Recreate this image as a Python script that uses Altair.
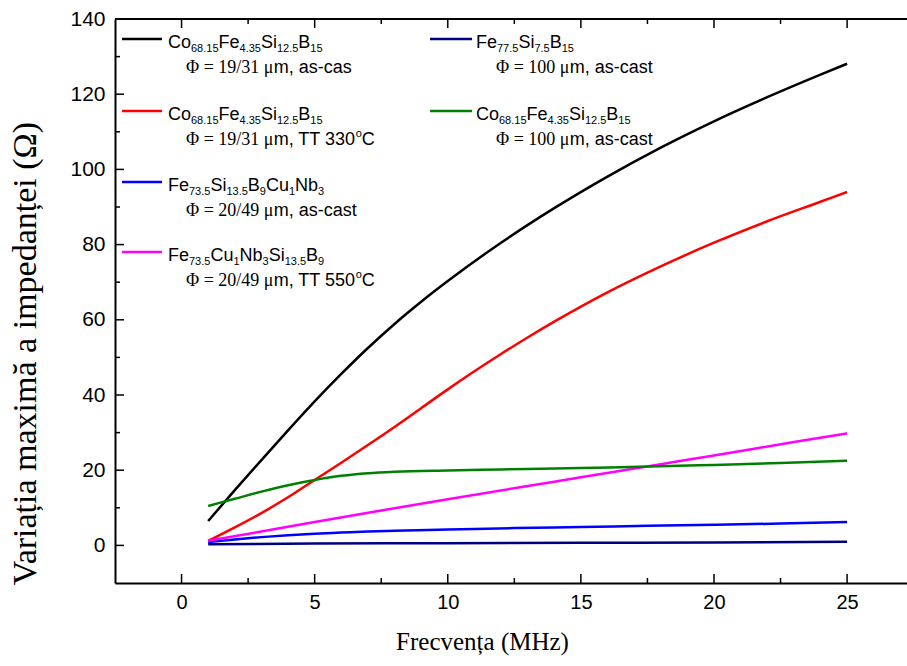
import re
import altair as alt
import pandas as pd

# ---------------- data ----------------
black_f = [1, 2, 3, 4, 5, 6, 7, 8, 9, 10, 12, 14, 16, 18, 20, 22, 24, 25]
black_v = [6.5, 14.7, 22.7, 30.6, 38.3, 45.6, 52.5, 58.9, 64.8, 70.3, 80.5, 89.7, 98.1, 105.8, 112.8, 119.2, 125.2, 128.1]

red_f = [1, 2, 3, 4, 5, 6, 7, 8, 9, 10, 11, 12, 13, 14, 16, 18, 20, 22, 24, 25]
red_v = [1.2, 4.8, 8.6, 12.8, 17.4, 22.0, 26.7, 31.5, 36.5, 41.5, 46.3, 50.9, 55.3, 59.5, 67.3, 74.2, 80.5, 86.2, 91.4, 94.0]

blue_f = [1, 2, 3, 4, 5, 6, 7, 8, 10, 12.5, 15, 17.5, 20, 22.5, 25]
blue_v = [0.9, 1.6, 2.2, 2.7, 3.1, 3.4, 3.7, 3.9, 4.2, 4.6, 4.9, 5.2, 5.5, 5.8, 6.2]

magenta_f = [1, 3, 5, 8, 10, 13, 15, 18, 20, 23, 25]
magenta_v = [1.25, 3.7, 6.2, 9.9, 12.3, 15.8, 18.1, 21.6, 23.9, 27.5, 29.8]

navy_f = [1, 5, 10, 15, 20, 25]
navy_v = [0.3, 0.5, 0.6, 0.7, 0.8, 0.95]

green_f = [1, 2, 3, 4, 5, 6, 7, 8, 10, 12, 15, 17.2, 20, 22.5, 25]
green_v = [10.5, 12.4, 14.3, 16.0, 17.4, 18.5, 19.2, 19.6, 19.95, 20.2, 20.6, 20.9, 21.4, 21.9, 22.5]

x_ticks = [0, 5, 10, 15, 20, 25]
x_minor = [2.5, 7.5, 12.5, 17.5, 22.5]
y_ticks = [0, 20, 40, 60, 80, 100, 120, 140]
y_minor = [10, 30, 50, 70, 90, 110, 130]

# legend texts: formula (with _{sub} and ^{sup}), serif part, sans part
legend_names = ["black", "red", "blue", "magenta", "navy", "green"]
legend_formula = [
    "Co_{68.15}Fe_{4.35}Si_{12.5}B_{15}",
    "Co_{68.15}Fe_{4.35}Si_{12.5}B_{15}",
    "Fe_{73.5}Si_{13.5}B_{9}Cu_{1}Nb_{3}",
    "Fe_{73.5}Cu_{1}Nb_{3}Si_{13.5}B_{9}",
    "Fe_{77.5}Si_{7.5}B_{15}",
    "Co_{68.15}Fe_{4.35}Si_{12.5}B_{15}",
]
legend_serif = ["Φ = 19/31 μ", "Φ = 19/31 μ", "Φ = 20/49 μ", "Φ = 20/49 μ", "Φ = 100 μ", "Φ = 100 μ"]
legend_sans = ["m, as-cas", "m, TT 330^{o}C", "m, as-cast", "m, TT 550^{o}C", "m, as-cast", "m, as-cast"]

colors = {"black": "#000000", "red": "#ff0000", "blue": "#0000ff",
          "magenta": "#ff00ff", "navy": "#000080", "green": "#008000"}

series = {
    "black": (black_f, black_v), "red": (red_f, red_v), "blue": (blue_f, blue_v),
    "magenta": (magenta_f, magenta_v), "navy": (navy_f, navy_v), "green": (green_f, green_v),
}

# ---------------- layout constants ----------------
W, H = 792, 564
XMIN, XMAX = -2.5, 27.25
YMIN, YMAX = -10, 140
SANS = "Liberation Sans"
SERIF = "Liberation Serif"
FS, SUB = 18, 11

SANS_W = {' ': 278, ',': 278, '-': 333, '.': 278, '/': 278, 'B': 667, 'C': 722, 'F': 611,
          'N': 722, 'S': 667, 'T': 611, 'a': 556, 'b': 556, 'c': 500, 'e': 556, 'i': 222,
          'm': 833, 'o': 556, 's': 500, 't': 278, 'u': 556}
SERIF_W = {' ': 250, '=': 564, '/': 278, 'Φ': 760, 'μ': 520}


def text_w(t, fam, size):
    table = SANS_W if fam == "sans" else SERIF_W
    dflt = 556 if fam == "sans" else 500
    return sum(table.get(c, dflt) for c in t) / 1000 * size


def parse(markup):
    out = []
    for m in re.finditer(r'([_^])\{([^}]*)\}|([^_^]+)', markup):
        if m.group(3):
            out.append((m.group(3), "n"))
        else:
            out.append((m.group(2), "sub" if m.group(1) == "_" else "sup"))
    return out


rows = []


def lay(parts, x, y, fam):
    for t, kind in parts:
        size = FS if kind == "n" else SUB
        dy = 0 if kind == "n" else (4 if kind == "sub" else -8)
        rows.append({"px": x, "py": y + dy, "t": t, "s": size, "fam": fam})
        x += text_w(t, fam, size)
    return x


# legend positions (pixels relative to plot area)
left_col = {"line": (7, 47), "text": 53, "line2": 71}
right_col = {"line": (315, 357), "text": 361, "line2": 381}
row_base = [29, 101, 172, 242]
slots = [(left_col, 0), (left_col, 1), (left_col, 2), (left_col, 3), (right_col, 0), (right_col, 1)]

sample_rows = []
for name, formula, serif, sans, (col, r) in zip(legend_names, legend_formula, legend_serif, legend_sans, slots):
    base = row_base[r]
    sample_rows.append({"x1": col["line"][0], "x2": col["line"][1], "y1": base - 9, "name": name})
    lay(parse(formula), col["text"], base, "sans")
    xe = lay([(serif, "n")], col["line2"], base + 25, "serif")
    lay(parse(sans), xe, base + 25, "sans")

seg = pd.DataFrame(rows)
samples = pd.DataFrame(sample_rows)


# frame top line and inward ticks as pixel segments (positions from the axis domain)
def xpix(v):
    return (v - XMIN) / (XMAX - XMIN) * W


def ypix(v):
    return (YMAX - v) / (YMAX - YMIN) * H


tick_rows = []
for vals, ln in [(x_ticks, 9), (x_minor, 5)]:
    for v in vals:
        tick_rows.append({"x1": xpix(v), "x2": xpix(v), "y1": H, "y2": H - ln, "name": "black"})
        tick_rows.append({"x1": xpix(v), "x2": xpix(v), "y1": 0, "y2": ln, "name": "black"})
for vals, ln in [(y_ticks, 9), (y_minor, 5)]:
    for v in vals:
        tick_rows.append({"x1": 0, "x2": ln, "y1": ypix(v), "y2": ypix(v), "name": "black"})
ticks_df = pd.DataFrame(tick_rows)
frame_df = pd.DataFrame({"x1": [0], "x2": [W], "y1": [0], "y2": [0], "name": ["black"]})

lines_df = pd.DataFrame([
    {"f": f, "v": v, "name": n} for n, (fs, vs) in series.items() for f, v in zip(fs, vs)
])

color_scale = alt.Scale(domain=legend_names, range=[colors[n] for n in legend_names])

xscale = alt.Scale(domain=[XMIN, XMAX], nice=False, zero=False)
yscale = alt.Scale(domain=[YMIN, YMAX], nice=False, zero=False)

lines = alt.Chart(lines_df).mark_line(strokeWidth=2.5, interpolate="monotone", clip=True).encode(
    x=alt.X("f:Q", scale=xscale, axis=alt.Axis(
        values=x_ticks, ticks=False, grid=False, domainColor="black", domainWidth=2,
        labelFont=SANS, labelFontSize=20, labelPadding=9, labelColor="black",
        labelFlush=False, labelOverlap=False,
        title="Frecvența (MHz)", titleFont=SERIF, titleFontSize=25, titleFontWeight="normal",
        titleColor="black", titleX=367, titleY=58, titleBaseline="middle", titleAlign="center")),
    y=alt.Y("v:Q", scale=yscale, axis=alt.Axis(
        values=y_ticks, ticks=False, grid=False, domainColor="black", domainWidth=2,
        labelFont=SANS, labelFontSize=21, labelPadding=10, labelColor="black",
        labelFlush=False, labelOverlap=False,
        title="Variația maximă a impedanței (Ω)", titleFont=SERIF, titleFontSize=34,
        titleFontWeight="normal", titleColor="black", titleX=-90, titleY=334,
        titleBaseline="middle", titleAlign="center")),
    color=alt.Color("name:N", scale=color_scale, legend=None),
    detail="name:N",
)

legend_lines = alt.Chart(samples).mark_rule(strokeWidth=2.5).encode(
    x=alt.X("x1:Q", scale=None, axis=None), x2="x2:Q",
    y=alt.Y("y1:Q", scale=None, axis=None),
    color=alt.Color("name:N", scale=color_scale, legend=None),
)

tick_marks = alt.Chart(ticks_df).mark_rule(strokeWidth=1.5).encode(
    x=alt.X("x1:Q", scale=None, axis=None), x2="x2:Q",
    y=alt.Y("y1:Q", scale=None, axis=None), y2="y2:Q",
    color=alt.Color("name:N", scale=color_scale, legend=None),
)

top_frame = alt.Chart(frame_df).mark_rule(strokeWidth=2).encode(
    x=alt.X("x1:Q", scale=None, axis=None), x2="x2:Q",
    y=alt.Y("y1:Q", scale=None, axis=None),
    color=alt.Color("name:N", scale=color_scale, legend=None),
)

legend_sans_txt = alt.Chart(seg[seg.fam == "sans"]).mark_text(
    align="left", baseline="alphabetic", font=SANS, color="black").encode(
    x=alt.X("px:Q", scale=None, axis=None), y=alt.Y("py:Q", scale=None, axis=None),
    text="t:N", size=alt.Size("s:Q", scale=None, legend=None))

legend_serif_txt = alt.Chart(seg[seg.fam == "serif"]).mark_text(
    align="left", baseline="alphabetic", font=SERIF, color="black").encode(
    x=alt.X("px:Q", scale=None, axis=None), y=alt.Y("py:Q", scale=None, axis=None),
    text="t:N", size=alt.Size("s:Q", scale=None, legend=None))

chart = alt.layer(
    lines, legend_lines, tick_marks, top_frame, legend_sans_txt, legend_serif_txt
).properties(
    width=W, height=H,
    autosize=alt.AutoSizeParams(type="none"),
    padding={"left": 115, "top": 19, "right": 0, "bottom": 83},
    background="white",
).configure_view(stroke=None)

chart.save("out.html", embed_options={"renderer": "svg", "actions": False})
